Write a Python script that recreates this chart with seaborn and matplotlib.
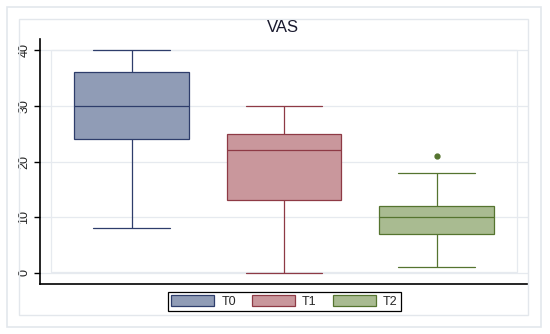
import matplotlib
matplotlib.use('Agg')
import matplotlib.pyplot as plt
import seaborn as sns
import numpy as np
import pandas as pd
from matplotlib.patches import Patch, Rectangle

sns.set_theme(style='white')
plt.rcParams['font.family'] = ['Liberation Sans', 'DejaVu Sans']

# values per time point (chosen so the box stats match the picture)
groups = ['T0', 'T1', 'T2']
t0 = [8, 24, 30, 36, 40]
t1 = [0, 13, 22, 25, 30]
t2 = [1, 5, 7, 8, 10, 11, 12, 18, 21]
fills = ['#909cb6', '#c9979c', '#a9bb91']
edges = ['#2e3d6b', '#8e3a45', '#55742f']
yticks = [0, 10, 20, 30, 40]

df = pd.concat([
    pd.DataFrame({'time': g, 'value': v}) for g, v in zip(groups, [t0, t1, t2])
])

fig = plt.figure(figsize=(5.5, 3.34), dpi=100)
fig.patch.set_facecolor('white')
# stata-like frames
fig.patches.append(Rectangle((7/550, 1-327/334), 534/550, 320/334, transform=fig.transFigure,
                             fill=False, edgecolor='#e3e7ec', lw=1.2))
fig.patches.append(Rectangle((19/550, 1-315/334), 509/550, 296/334, transform=fig.transFigure,
                             fill=False, edgecolor='#e3e7ec', lw=1.0))

ax = fig.add_axes([40/550, 1-284/334, 488/550, 245/334])
for g, fc, ec in zip(groups, fills, edges):
    sns.boxplot(data=df[df.time == g], x='time', y='value', order=groups, ax=ax,
                color=fc, linecolor=ec, linewidth=0.9, width=0.75, saturation=1,
                capwidths=0.5, whis=1.5,
                flierprops=dict(marker='o', markerfacecolor=ec, markeredgecolor=ec, markersize=3.5))

ax.set_xlim(-0.6, 2.6)
ax.set_ylim(-2, 42)
ax.set_yticks(yticks)
ax.set_yticklabels([str(t) for t in yticks], rotation=90, va='center', fontsize=9, color='#222222')
ax.set_xticks([])
ax.set_xlabel('')
ax.set_ylabel('')
ax.yaxis.grid(True, color='#e6eaef', lw=0.9)
ax.set_axisbelow(True)
ax.tick_params(axis='y', which='major', left=True, direction='out', length=4, width=1.0,
               color='black', pad=3)
for s in ['top', 'right']:
    ax.spines[s].set_visible(False)
for s in ['left', 'bottom']:
    ax.spines[s].set_color('black')
    ax.spines[s].set_linewidth(1.2)
ax.add_patch(Rectangle((11/488, 12/245), 466/488, 222/245, transform=ax.transAxes,
                       fill=False, edgecolor='#e6eaef', lw=0.9, zorder=0))

fig.text(283/550, 1-28/334, 'VAS', ha='center', va='center', fontsize=12, color='#1a1a2e')

handles = [Patch(facecolor=fc, edgecolor=ec, lw=0.9, label=g) for g, fc, ec in zip(groups, fills, edges)]
leg = fig.legend(handles=handles, loc='center', bbox_to_anchor=(284.5/550, 1-301.5/334), ncol=3,
                 fontsize=9, handlelength=3.4, handleheight=1.0, columnspacing=1.3, handletextpad=0.6,
                 borderpad=0.25, fancybox=False, framealpha=1)
leg.get_frame().set_edgecolor('black')
leg.get_frame().set_linewidth(0.9)

fig.savefig('out.png', dpi=100)
